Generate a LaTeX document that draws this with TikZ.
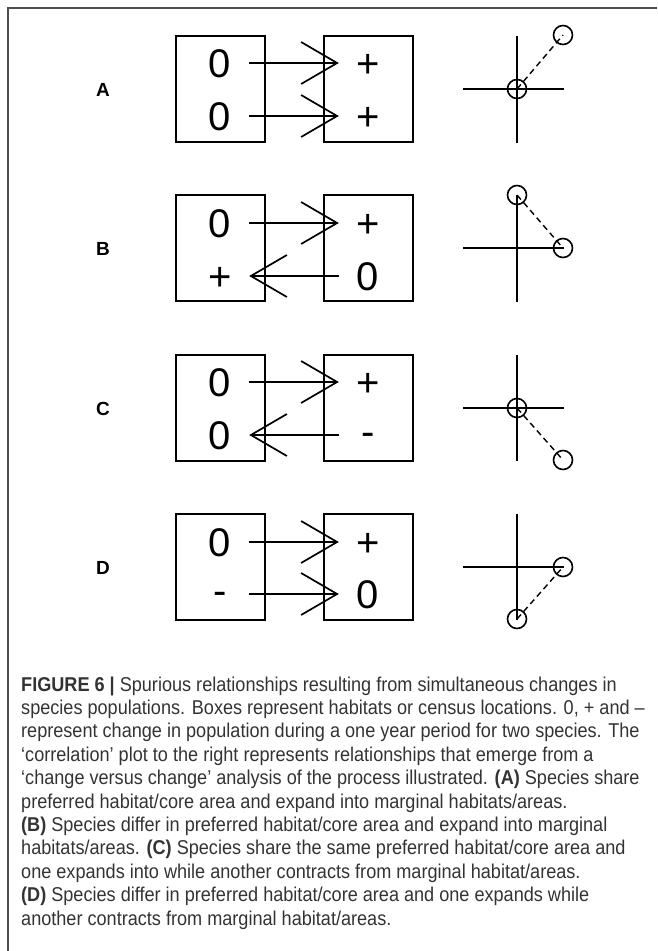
\documentclass[tikz,border=0pt]{standalone}
\usepackage{fontspec}
\setmainfont{Liberation Sans}
\newfontfamily\capfont[FakeStretch=0.905]{Liberation Sans}
\usetikzlibrary{arrows.meta,calc}

\definecolor{framegray}{HTML}{4D4D4D}
\definecolor{captext}{HTML}{333333}

\tikzset{
  frameline/.style={draw=framegray, line width=1.5pt},
  habitat/.style={draw, line width=1.8pt},
  change/.style={inner sep=0pt, minimum width=58pt, text height=28.6pt, text depth=0pt,
                 font=\fontsize{40}{40}\selectfont},
  rowlabel/.style={inner sep=0pt, font=\fontsize{19}{19}\selectfont\bfseries},
  migrate/.style={line width=1.7pt,
                -{Straight Barb[length=36pt,width=42pt,line width=1.7pt]}},
  axis/.style={line width=1.8pt},
  pt/.style={circle, draw, line width=1.6pt, minimum size=19pt, inner sep=0pt},
  trend/.style={line width=1.4pt, dash pattern=on 6pt off 4pt},
  capline/.style={anchor=base west, inner sep=0pt, text=captext,
                  font=\capfont\fontsize{20}{24}\selectfont}
}
% a minus sign set at the height of the digits
\newcommand{\loss}{\raisebox{3.6pt}{-}}

\begin{document}
\begin{tikzpicture}[x=1pt, y=-1pt]
\useasboundingbox (0,0) rectangle (657,951);

% figure frame
\draw[frameline] (8,951) -- (8,8) -- (657,8);

% ---- row A ----
\node[rowlabel] (la) at (103,90) {A};
\draw[habitat] (176,36) rectangle (265,142);
\draw[habitat] (324,36) rectangle (413,142);
\node[change] (a1) at (220,63) {0};
\node[change] (a2) at (220,116) {0};
\node[change] (a3) at (368,63) {+};
\node[change] (a4) at (368,116) {+};
\draw[migrate] (a1.east) -- (a3.west);
\draw[migrate] (a2.east) -- (a4.west);
\draw[axis] (463,89) -- (564,89);
\draw[axis] (517,36) -- (517,143);
\node[pt] (pa1) at (517,89) {};
\node[pt] (pa2) at (563,35) {};
\draw[trend] (pa1.center) -- (pa2.center);

% ---- row B ----
\node[rowlabel] (lb) at (103,249) {B};
\draw[habitat] (176,195) rectangle (265,301);
\draw[habitat] (324,195) rectangle (413,301);
\node[change] (b1) at (220,223) {0};
\node[change] (b2) at (220,276) {+};
\node[change] (b3) at (368,223) {+};
\node[change] (b4) at (368,276) {0};
\draw[migrate] (b1.east) -- (b3.west);
\draw[migrate] (b4.west) -- (b2.east);
\draw[axis] (463,248) -- (564,248);
\draw[axis] (517,195) -- (517,302);
\node[pt] (pb1) at (517,195) {};
\node[pt] (pb2) at (563,248) {};
\draw[trend] (pb1.center) -- (pb2.center);

% ---- row C ----
\node[rowlabel] (lc) at (103,409) {C};
\draw[habitat] (176,355) rectangle (265,461);
\draw[habitat] (324,355) rectangle (413,461);
\node[change] (c1) at (220,382) {0};
\node[change] (c2) at (220,435) {0};
\node[change] (c3) at (368,382) {+};
\node[change] (c4) at (368,435) {\loss};
\draw[migrate] (c1.east) -- (c3.west);
\draw[migrate] (c4.west) -- (c2.east);
\draw[axis] (463,408) -- (564,408);
\draw[axis] (517,355) -- (517,461);
\node[pt] (pc1) at (517,408) {};
\node[pt] (pc2) at (563,460) {};
\draw[trend] (pc1.center) -- (pc2.center);

% ---- row D ----
\node[rowlabel] (ld) at (103,568) {D};
\draw[habitat] (176,514) rectangle (265,620);
\draw[habitat] (324,514) rectangle (413,620);
\node[change] (d1) at (220,542) {0};
\node[change] (d2) at (220,594) {\loss};
\node[change] (d3) at (368,542) {+};
\node[change] (d4) at (368,594) {0};
\draw[migrate] (d1.east) -- (d3.west);
\draw[migrate] (d2.east) -- (d4.west);
\draw[axis] (463,567) -- (564,567);
\draw[axis] (517,514) -- (517,620);
\node[pt] (pd1) at (517,619) {};
\node[pt] (pd2) at (563,567) {};
\draw[trend] (pd1.center) -- (pd2.center);

% ---- caption ----
\node[capline] (t1) at (21,691) {\textbf{FIGURE 6 |} Spurious relationships resulting from simultaneous changes in};
\node[capline] (t2) at (21,714.4) {species populations. Boxes represent habitats or census locations. 0, + and –};
\node[capline] (t3) at (21,737.8) {represent change in population during a one year period for two species. The};
\node[capline] (t4) at (21,761.2) {‘correlation’ plot to the right represents relationships that emerge from a};
\node[capline] (t5) at (21,784.6) {‘change versus change’ analysis of the process illustrated. \textbf{(A)} Species share};
\node[capline] (t6) at (21,808) {preferred habitat/core area and expand into marginal habitats/areas.};
\node[capline] (t7) at (21,831.4) {\textbf{(B)} Species differ in preferred habitat/core area and expand into marginal};
\node[capline] (t8) at (21,854.8) {habitats/areas. \textbf{(C)} Species share the same preferred habitat/core area and};
\node[capline] (t9) at (21,878.2) {one expands into while another contracts from marginal habitat/areas.};
\node[capline] (t10) at (21,901.6) {\textbf{(D)} Species differ in preferred habitat/core area and one expands while};
\node[capline] (t11) at (21,925) {another contracts from marginal habitat/areas.};
\end{tikzpicture}
\end{document}
